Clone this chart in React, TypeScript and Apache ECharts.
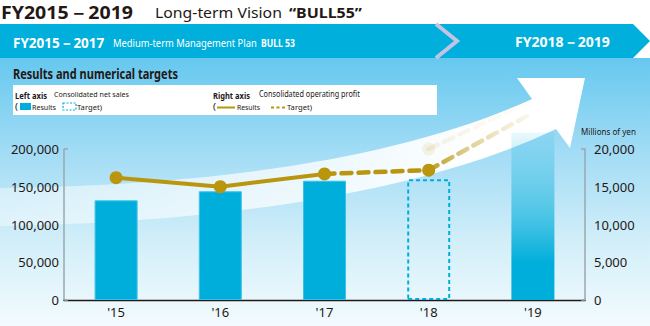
import React, { useEffect, useRef } from "react";
import * as echarts from "echarts";

const categories = ["'15", "'16", "'17", "'18", "'19"];
const salesResults = [132000, 144000, 158000, null, null];
const salesTargets = [null, null, null, 160000, 222000];
const profitResults = [16200, 15000, 16700, null, null];
const profitTargets = [null, null, 16700, 17200, 24800];
const profitVision = [null, null, null, 20000, 26500];

const FONT = "'Noto Sans', 'Open Sans', sans-serif";
const DARK = "#231815";
const CYAN = "#00aedb";
const GOLD = "#b9960e";
const AXIS_GRAY = "#9ba7ad";

let measureCtx: CanvasRenderingContext2D | null = null;
function measure(text: string, font: string) {
  if (!measureCtx) measureCtx = document.createElement("canvas").getContext("2d");
  measureCtx!.font = font;
  return measureCtx!.measureText(text).width;
}

function label(text: string, x0: number, x1: number, cy: number, size: number, bold: boolean, color: string) {
  const font = `${bold ? "bold" : "normal"} ${size}px ${FONT}`;
  const w = measure(text, font) || 1;
  const sx = (x1 - x0) / w;
  return {
    type: "text",
    x: x0,
    y: cy,
    scaleX: sx,
    silent: true,
    z: 20,
    style: {
      text,
      x: 0,
      y: 0,
      fill: color,
      font,
      textAlign: "left",
      textVerticalAlign: "middle",
      align: "left",
      verticalAlign: "middle",
    },
  };
}

let shapeRegistered = false;
function registerArrow() {
  if (shapeRegistered) return;
  const d =
    "M0,188 C250,185 420,150 532,99 L517,78 L585,78 L570,148 L556,129 C440,185 250,222 0,226 Z";
  echarts.graphic.registerShape("bigArrow", echarts.graphic.extendPath(d, {}) as any);
  shapeRegistered = true;
}

export default function App() {
  const ref = useRef<HTMLDivElement>(null);
  useEffect(() => {
    document.body.style.margin = "0";
    registerArrow();
    const chart = echarts.init(ref.current!, null, { renderer: "svg" });

    const lg = (c: number[]) =>
      new echarts.graphic.LinearGradient(0, 0, 1, 0, c.map((a, i) => ({ offset: i / (c.length - 1), color: `rgba(185,150,14,${a})` })));

    const graphic: any[] = [
      {
        type: "rect",
        z: -10,
        silent: true,
        shape: { x: 0, y: 58, width: 650, height: 268 },
        style: {
          fill: new echarts.graphic.LinearGradient(0, 0, 0, 1, [
            { offset: 0, color: "#66c8ef" },
            { offset: 0.35, color: "#a2dcf5" },
            { offset: 0.7, color: "#d4eff9" },
            { offset: 1, color: "#f3fbfe" },
          ]),
        },
      },
      {
        type: "bigArrow",
        x: 0,
        y: 0,
        z: -5,
        silent: true,
        style: {
          fill: new echarts.graphic.LinearGradient(0, 0, 1, 0, [
            { offset: 0, color: "rgba(255,255,255,0.42)" },
            { offset: 0.5, color: "rgba(255,255,255,0.75)" },
            { offset: 0.82, color: "rgba(255,255,255,1)" },
            { offset: 1, color: "rgba(255,255,255,1)" },
          ]),
        },
      },
      {
        type: "polygon",
        z: 10,
        silent: true,
        shape: { points: [[0, 24], [633, 24], [650, 41], [633, 58], [0, 58]] },
        style: { fill: "#00afdc" },
      },
      {
        type: "polyline",
        z: 11,
        silent: true,
        shape: { points: [[436, 24], [457, 41], [436, 58]] },
        style: { stroke: "#c5c3e3", lineWidth: 4, fill: "none" },
      },
      {
        type: "rect",
        z: 10,
        silent: true,
        shape: { x: 13, y: 85, width: 424, height: 30 },
        style: { fill: "#ffffff" },
      },
      { type: "rect", z: 12, silent: true, shape: { x: 20, y: 103, width: 11, height: 7 }, style: { fill: CYAN } },
      {
        type: "rect",
        z: 12,
        silent: true,
        shape: { x: 63, y: 103, width: 13, height: 7 },
        style: { fill: "none", stroke: CYAN, lineWidth: 1.2, lineDash: [2, 1.5] },
      },
      {
        type: "line",
        z: 12,
        silent: true,
        shape: { x1: 217, y1: 107.5, x2: 235, y2: 107.5 },
        style: { stroke: GOLD, lineWidth: 2 },
      },
      {
        type: "line",
        z: 12,
        silent: true,
        shape: { x1: 271, y1: 107.5, x2: 286, y2: 107.5 },
        style: { stroke: GOLD, lineWidth: 2, lineDash: [3, 2.5] },
      },
      label("FY2015－2019", 1, 133, 12, 18, true, DARK),
      label("Long-term Vision", 155, 282, 12.5, 14.5, false, DARK),
      label("“BULL55”", 289, 362, 12.5, 14.5, true, DARK),
      label("FY2015－2017", 13, 104, 42, 14, true, "#ffffff"),
      label("Medium-term Management Plan", 113, 257, 43, 11, false, "#ffffff"),
      label("BULL 53", 261, 295, 43, 11, true, "#ffffff"),
      label("FY2018－2019", 515, 610, 42, 14, true, "#ffffff"),
      label("Results and numerical targets", 13, 178, 74, 14, true, DARK),
      label("Left axis", 15, 47, 95, 8.5, true, DARK),
      label("Consolidated net sales", 54, 129, 94, 8, false, DARK),
      label("Right axis", 213, 250, 95, 8.5, true, DARK),
      label("Consolidated operating profit", 259, 360, 94, 8, false, DARK),
      label("(", 15, 18, 107, 8.5, false, DARK),
      label("Results", 32, 56, 107, 8, false, DARK),
      label("Target)", 77, 102, 107, 8, false, DARK),
      label("(", 213, 216, 107, 8.5, false, DARK),
      label("Results", 237, 260, 107, 8, false, DARK),
      label("Target)", 287, 312, 107, 8, false, DARK),
      label("Millions of yen", 581, 636, 131, 8.5, false, DARK),
    ];

    const nearTargets = profitTargets.map((v, i) =>
      i > 3 || v == null ? null : i === 3 ? { value: v, symbol: "circle", symbolSize: 13 } : v
    );
    const farTargets = profitTargets.map((v, i) => (i < 3 ? null : v));
    const visionData = profitVision.map((v, i) =>
      v == null ? null : i === 3 ? { value: v, symbol: "circle", symbolSize: 13 } : v
    );

    const salesTargetData = salesTargets.map((v, i) => {
      if (v == null) return null;
      if (i === 3)
        return {
          value: v,
          itemStyle: { color: "rgba(0,0,0,0)", borderColor: CYAN, borderWidth: 2, borderType: [4, 3] },
        };
      return {
        value: v,
        itemStyle: {
          color: new echarts.graphic.LinearGradient(0, 0, 0, 1, [
            { offset: 0, color: "rgba(0,174,219,0.08)" },
            { offset: 0.45, color: "rgba(0,174,219,0.55)" },
            { offset: 0.78, color: "rgba(0,174,219,1)" },
            { offset: 1, color: "rgba(0,174,219,1)" },
          ]),
        },
      };
    });

    const fmt = (v: number) => v.toLocaleString("en-US");

    chart.setOption({
      animation: false,
      textStyle: { fontFamily: FONT },
      grid: { left: 64, right: 65, top: 149, bottom: 26, containLabel: false },
      graphic,
      xAxis: {
        type: "category",
        data: categories,
        axisLine: { lineStyle: { color: DARK, width: 1.3 } },
        axisTick: { show: false },
        axisLabel: { color: DARK, fontSize: 13, margin: 5, fontFamily: FONT },
      },
      yAxis: [
        {
          type: "value",
          min: 0,
          max: 200000,
          interval: 50000,
          position: "left",
          axisLine: { show: true, lineStyle: { color: AXIS_GRAY, width: 1.5 } },
          axisTick: { show: false },
          splitLine: { show: false },
          axisLabel: { color: DARK, fontSize: 13, margin: 5, formatter: fmt, fontFamily: FONT },
        },
        {
          type: "value",
          min: 0,
          max: 20000,
          interval: 5000,
          position: "right",
          axisLine: { show: true, lineStyle: { color: AXIS_GRAY, width: 1.5 } },
          axisTick: { show: false },
          splitLine: { show: false },
          axisLabel: { color: DARK, fontSize: 13, margin: 9, formatter: fmt, fontFamily: FONT },
        },
        {
          type: "value",
          min: 0,
          max: 200000,
          interval: 200000,
          position: "left",
          axisLine: { show: false },
          axisTick: { show: true, inside: true, length: 4, lineStyle: { color: AXIS_GRAY, width: 1.5 } },
          axisLabel: { show: false },
          splitLine: { show: false },
        },
        {
          type: "value",
          min: 0,
          max: 20000,
          interval: 20000,
          position: "right",
          axisLine: { show: false },
          axisTick: { show: true, inside: true, length: 4, lineStyle: { color: AXIS_GRAY, width: 1.5 } },
          axisLabel: { show: false },
          splitLine: { show: false },
        },
      ],
      series: [
        {
          name: "Net sales results",
          type: "bar",
          yAxisIndex: 0,
          data: salesResults,
          barWidth: 43,
          barGap: "-100%",
          itemStyle: { color: CYAN, borderColor: "#3cc2ea", borderWidth: 1 },
          z: 3,
        },
        {
          name: "Net sales target",
          type: "bar",
          yAxisIndex: 0,
          data: salesTargetData,
          barWidth: 43,
          barGap: "-100%",
          clip: false,
          z: 2,
        },
        {
          name: "Operating profit vision",
          type: "line",
          yAxisIndex: 1,
          data: visionData,
          symbol: "none",
          clip: false,
          itemStyle: { color: "rgba(185,150,14,0.1)" },
          lineStyle: { color: lg([0.12, 0.06, 0.02]), width: 4.5, type: [10, 7], cap: "round" },
          z: 4,
        },
        {
          name: "Operating profit target far",
          type: "line",
          yAxisIndex: 1,
          data: farTargets,
          symbol: "none",
          clip: false,
          lineStyle: { color: lg([0.95, 0.5, 0.22, 0.06]), width: 4.5, type: [10, 7], cap: "round" },
          z: 5,
        },
        {
          name: "Operating profit target",
          type: "line",
          yAxisIndex: 1,
          data: nearTargets,
          symbol: "none",
          itemStyle: { color: GOLD },
          lineStyle: { color: GOLD, width: 4.5, type: [10, 7], cap: "round" },
          z: 6,
        },
        {
          name: "Operating profit results",
          type: "line",
          yAxisIndex: 1,
          data: profitResults,
          symbol: "circle",
          symbolSize: 13,
          itemStyle: { color: GOLD },
          lineStyle: { color: GOLD, width: 4 },
          z: 7,
        },
      ],
    });
    return () => chart.dispose();
  }, []);
  return <div ref={ref} style={{ width: 650, height: 326 }} />;
}
